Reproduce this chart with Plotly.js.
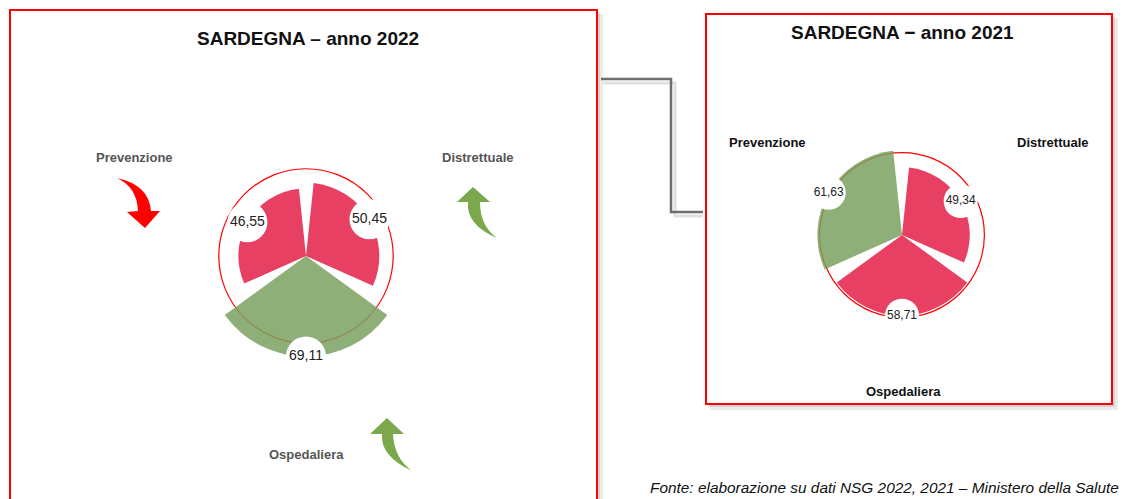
<!DOCTYPE html>
<html>
<head>
<meta charset="utf-8">
<script src="https://cdn.plot.ly/plotly-3.0.1.min.js"></script>
<style>
  html, body { margin: 0; padding: 0; background: #fff; }
  #chart { width: 1132px; height: 499px; }
</style>
</head>
<body>
<div id="chart"></div>
<script>
// LEA scores per area (NSG), Sardegna
var areas = ['Prevenzione', 'Distrettuale', 'Ospedaliera'];
var scores2022 = [46.55, 50.45, 69.11];
var scores2021 = [61.63, 49.34, 58.71];
var threshold = 60;
var areaAngles = [150, 30, 270];

var W = 1132, H = 499;
var RED = 'rgb(232,64,98)', GREEN = 'rgba(123,161,96,0.85)', ARROW_GREEN = '#7aa84b';

function fmt(v) { return v.toFixed(2).replace('.', ','); }
function colorFor(v) { return v >= threshold ? GREEN : RED; }

// pixel -> paper helpers (margins are zero)
function px(x) { return x / W; }
function py(y) { return 1 - y / H; }
function toPath(cmds) {
  return cmds.map(function (c) {
    if (c[0] === 'Z') return 'Z';
    var pts = [];
    for (var i = 1; i < c.length; i += 2) pts.push(px(c[i]).toFixed(5) + ',' + py(c[i + 1]).toFixed(5));
    return c[0] + pts.join(' ');
  }).join(' ');
}

function sectors(scores, polar) {
  return {
    type: 'barpolar',
    r: scores,
    theta: areaAngles,
    width: [108, 108, 108],
    marker: { color: scores.map(colorFor), line: { width: 0 } },
    subplot: polar,
    hoverinfo: 'skip'
  };
}

function valueLabels(scores, polar, size, fontSize) {
  return {
    type: 'scatterpolar',
    mode: 'markers+text',
    r: scores,
    theta: areaAngles,
    text: scores.map(fmt),
    textposition: 'middle center',
    textfont: { family: 'Liberation Sans, Arial', size: fontSize, color: '#222' },
    marker: { color: '#fff', size: size, line: { width: 0 } },
    cliponaxis: false,
    subplot: polar,
    hoverinfo: 'skip'
  };
}

var data = [
  sectors(scores2022, 'polar'),
  valueLabels(scores2022, 'polar', 40, 14),
  sectors(scores2021, 'polar2'),
  valueLabels(scores2021, 'polar2', 34, 12)
];

function polarCfg(cx, cy, rad) {
  return {
    domain: { x: [px(cx - rad), px(cx + rad)], y: [py(cy + rad), py(cy - rad)] },
    bgcolor: 'rgba(0,0,0,0)',
    radialaxis: {
      range: [0, 75], tickvals: [threshold], showticklabels: false, ticks: '',
      showline: false, showgrid: true, gridcolor: '#ff0000', gridwidth: 1.2
    },
    angularaxis: { visible: false, showgrid: false, rotation: 0, direction: 'counterclockwise' }
  };
}

function rect(x0, y0, x1, y1, fill, line) {
  return {
    type: 'rect', xref: 'paper', yref: 'paper', layer: 'below',
    x0: px(x0), x1: px(x1), y0: py(y1), y1: py(y0),
    fillcolor: fill, line: line || { width: 0 }
  };
}

function pathShape(cmds, fill, line, layer) {
  return {
    type: 'path', xref: 'paper', yref: 'paper', layer: layer || 'above',
    path: toPath(cmds), fillcolor: fill, line: line || { width: 0 }
  };
}

var connector = [['M', 601, 79], ['L', 671, 79], ['L', 671, 212], ['L', 703, 212]];
var connectorShadow = [['M', 603, 83], ['L', 675, 83], ['L', 675, 216], ['L', 703, 216]];

var shapes = [
  // panel shadows
  rect(14, 14, 603, 520, 'rgba(0,0,0,0.08)'),
  rect(12, 12, 600, 520, 'rgba(0,0,0,0.10)'),
  rect(710, 18, 1118, 410, 'rgba(0,0,0,0.08)'),
  rect(708, 16, 1115, 407, 'rgba(0,0,0,0.10)'),
  // panels
  rect(10, 10, 597, 520, '#ffffff', { color: '#ff0000', width: 2 }),
  rect(706, 14, 1112, 404, '#ffffff', { color: '#ff0000', width: 2 }),
  // connector between panels
  pathShape(connectorShadow, 'rgba(0,0,0,0)', { color: 'rgba(0,0,0,0.12)', width: 3 }, 'below'),
  pathShape(connector, 'rgba(0,0,0,0)', { color: '#6e6e6e', width: 2.5 }, 'below'),
  // trend arrows
  pathShape([['M', 117, 178], ['Q', 149, 185, 151, 211], ['L', 160, 211], ['L', 145, 228],
             ['L', 127, 212], ['L', 138, 211], ['Q', 137, 187, 117, 178], ['Z']], '#ff0000'),
  pathShape([['M', 497, 238], ['Q', 466, 225, 468, 202], ['L', 457, 202], ['L', 473, 187],
             ['L', 490, 202], ['L', 480, 202], ['Q', 480, 226, 497, 238], ['Z']], ARROW_GREEN),
  pathShape([['M', 412, 471], ['Q', 380, 456, 382, 434], ['L', 370, 434], ['L', 387, 418],
             ['L', 404, 434], ['L', 393, 434], ['Q', 394, 458, 412, 471], ['Z']], ARROW_GREEN)
];

function note(text, x, y, size, color, extra) {
  var a = {
    text: text, x: px(x), y: py(y), xref: 'paper', yref: 'paper',
    showarrow: false, xanchor: 'center', yanchor: 'middle',
    font: { family: 'Liberation Sans, Arial', size: size, color: color }
  };
  for (var k in extra) a[k] = extra[k];
  return a;
}

var annotations = [
  note('<b>SARDEGNA – anno 2022</b>', 308, 39, 19, '#111'),
  note('<b>SARDEGNA − anno 2021</b>', 902, 33, 19, '#111'),
  note('<b>' + areas[0] + '</b>', 134, 157, 13, '#555'),
  note('<b>' + areas[1] + '</b>', 478, 157, 13, '#555'),
  note('<b>' + areas[2] + '</b>', 306, 454, 13, '#555'),
  note('<b>' + areas[0] + '</b>', 767, 143, 13, '#111'),
  note('<b>' + areas[1] + '</b>', 1053, 143, 13, '#111'),
  note('<b>' + areas[2] + '</b>', 903, 391, 13, '#111'),
  note('<i>Fonte: elaborazione su dati NSG 2022, 2021 – Ministero della Salute</i>', 648, 487, 15.4, '#111',
       { xanchor: 'left' })
];

var layout = {
  width: W, height: H,
  margin: { l: 0, r: 0, t: 0, b: 0 },
  paper_bgcolor: '#ffffff',
  showlegend: false,
  polar: polarCfg(306, 256, 109),
  polar2: polarCfg(902, 235, 103),
  shapes: shapes,
  annotations: annotations
};

Plotly.newPlot('chart', data, layout, { staticPlot: true });
</script>
</body>
</html>
